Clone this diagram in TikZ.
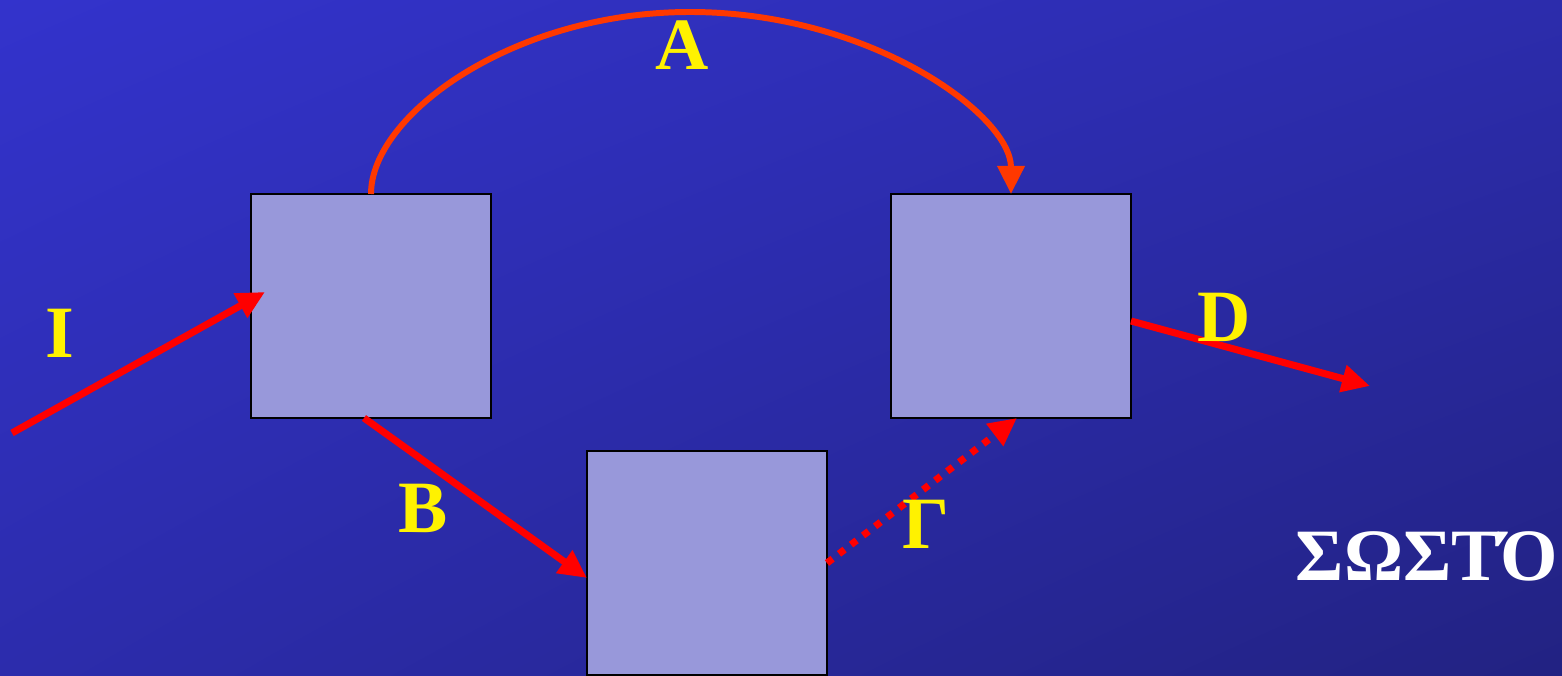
\documentclass[tikz,border=0pt]{standalone}
\usepackage{fontspec}
\setmainfont{Liberation Serif}
\usepackage{tikz}
\usetikzlibrary{arrows.meta,positioning,calc,shadings}
\definecolor{slideblue}{RGB}{51,51,204}
\definecolor{slidedark}{RGB}{34,34,130}
\definecolor{slidemid}{RGB}{44,44,172}
\definecolor{blockfill}{RGB}{152,152,218}
\definecolor{arcred}{RGB}{255,56,0}
\definecolor{flowred}{RGB}{255,0,0}
\begin{document}
\begin{tikzpicture}[every node/.style={font=\bfseries\fontsize{21}{25}\selectfont},
    blk/.style={draw=black,line width=0.7pt,fill=blockfill,minimum width=2.4cm,
                minimum height=2.24cm,inner sep=0pt,outer sep=0pt},
    lbl/.style={text=yellow,inner sep=0pt},
    flow/.style={flowred,line width=2pt,-{Triangle[length=8pt,width=7.5pt]}}]
      \shade[upper left=slideblue,upper right=slidemid,lower left=slidemid,
             lower right=slidedark] (0,0) rectangle (15.62,6.75);
      \useasboundingbox (0,0) rectangle (15.62,6.75);

      \node[blk] (left) at (3.71,3.69) {};
      \node[blk] (right) at (10.11,3.69) {};
      \node[blk] (low) at (7.07,1.12) {};

      \coordinate (src) at (0.12,2.42);
      \coordinate (sink) at (13.70,2.89);

      % A: over the top
      \draw[arcred,line width=1.7pt,-{Triangle[length=8pt,width=7.5pt]}]
        (left.north) .. controls (3.71,5.6) and (5.13,6.63) .. (6.90,6.63)
        .. controls (8.70,6.63) and (10.11,5.6) .. (right.north);

      \draw[flow] (src) -- ([xshift=0.14cm,yshift=0.14cm]left.west);
      \draw[flow] ([xshift=-0.07cm]left.south) -- ([yshift=-0.15cm]low.west);
      \draw[flow,dash pattern=on 2pt off 2.3pt] (low.east) -- ([xshift=0.06cm]right.south);
      \draw[flow] ([yshift=-0.15cm]right.east) -- (sink);

      \node[lbl] (lA) at (6.82,6.30) {A};
      \node[lbl] (lI) at (0.60,3.42) {I};
      \node[lbl] (lB) at (4.23,1.67) {B};
      \node[lbl] (lG) at (9.26,1.51) {Γ};
      \node[lbl] (lD) at (12.24,3.58) {D};
      \node[text=white,inner sep=0pt] (ok) at (14.27,1.19) {ΣΩΣΤΌ};
    \end{tikzpicture}
\end{document}
